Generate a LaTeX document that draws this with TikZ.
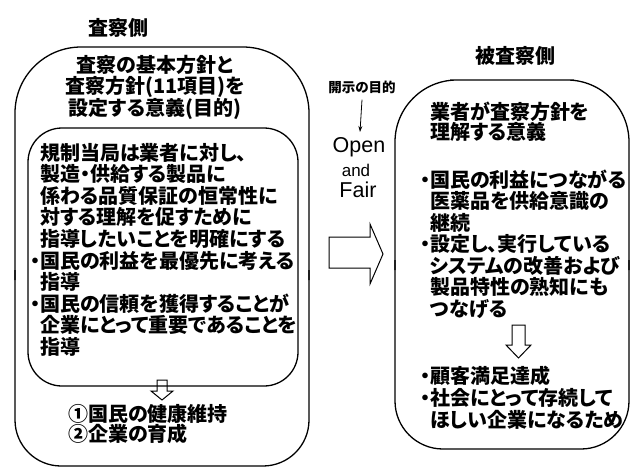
\documentclass[tikz,border=0pt]{standalone}
\usepackage{fontspec}
\newfontfamily\jp{Noto Sans CJK JP}[RawFeature=+palt]
\newfontfamily\arl{Liberation Sans}
\usetikzlibrary{arrows.meta}
\begin{document}
\begin{tikzpicture}[x=1pt,y=-1pt,
  box/.style={line width=1.3pt},
  hollow/.style={line width=1pt, line join=miter},
  titletext/.style={font=\jp\bfseries\fontsize{20}{22}\selectfont, inner sep=0},
  body/.style={font=\jp\bfseries\fontsize{20}{21.6}\selectfont, inner sep=0, align=left, anchor=base west},
  latin/.style={font=\arl\fontsize{21.5}{21.5}\selectfont, inner sep=0}]
\useasboundingbox (0,0) rectangle (632,467);
% left outer box
\draw[box,rounded corners=66pt] (15,280) |- (162,47) -| (309,280);
\draw[box,rounded corners=46pt] (15,270) |- (162,466) -| (309,270);
% left inner box
\draw[box,rounded corners=34pt] (28,128) rectangle (298,386);
% right box
\draw[box,rounded corners=62pt] (395,270) |- (512,80) -| (629,270);
\draw[box,rounded corners=48pt] (395,260) |- (512,449) -| (629,260);
% titles
\node[titletext] (t1) at (118,28) {査察側};
\node[titletext] (t2) at (515,56) {被査察側};
% left box texts (base anchor = baseline of last line)
\node[body, align=center, anchor=base, font=\jp\bfseries\fontsize{20}{20.5}\selectfont] (lt) at (155,115.6)
  {査察の基本方針と\\査察方針(11項目)を\\設定する意義(目的)};
\node[body] (lb) at (40,354.4)
  {規制当局は業者に対し、\\製造・供給する製品に\\係わる品質保証の恒常性に\\対する理解を促すために\\指導したいことを明確にする\\\llap{・}国民の利益を最優先に考える\\指導\\\llap{・}国民の信頼を獲得することが\\企業にとって重要であることを\\指導};
\node[body, font=\jp\bfseries\fontsize{20}{20}\selectfont] (goals) at (68,441)
  {①国民の健康維持\\②企業の育成};
% right box texts
\node[body, font=\jp\bfseries\fontsize{20}{20}\selectfont] (rt) at (430,139.6)
  {業者が査察方針を\\理解する意義};
\node[body, font=\jp\bfseries\fontsize{20}{21.5}\selectfont] (r1) at (430,316)
  {\llap{・}国民の利益につながる\\医薬品を供給意識の\\継続\\\llap{・}設定し、実行している\\システムの改善および\\製品特性の熟知にも\\つなげる};
\node[body, font=\jp\bfseries\fontsize{20}{22}\selectfont] (r2) at (430,427)
  {\llap{・}顧客満足達成\\\llap{・}社会にとって存続して\\ほしい企業になるため};
% middle
\node[font=\jp\bfseries\fontsize{13.5}{13.5}\selectfont, inner sep=1pt] (kaiji) at (362,87) {開示の目的};
\node[latin] (open) at (359,147) {Open};
\node[latin, font=\arl\fontsize{17}{17}\selectfont] (and) at (356,170) {and};
\node[latin] (fair) at (358,190) {Fair};
\draw[-{Stealth[length=6pt,width=4pt]}, line width=0.8pt] (kaiji.south) ++(0,5) -- (360,132);
% hollow arrows
\draw[hollow] (157,380) -- (167,380) -- (167,391) -- (173,391) -- (162,400) -- (151,391) -- (157,391) -- cycle;
\draw[hollow] (512,325) -- (525,325) -- (525,345) -- (531,345) -- (518.5,358) -- (506,345) -- (512,345) -- cycle;
\draw[hollow] (329,237) -- (370,237) -- (370,224) -- (383,254) -- (370,284) -- (370,268) -- (329,268) -- cycle;
\end{tikzpicture}
\end{document}
